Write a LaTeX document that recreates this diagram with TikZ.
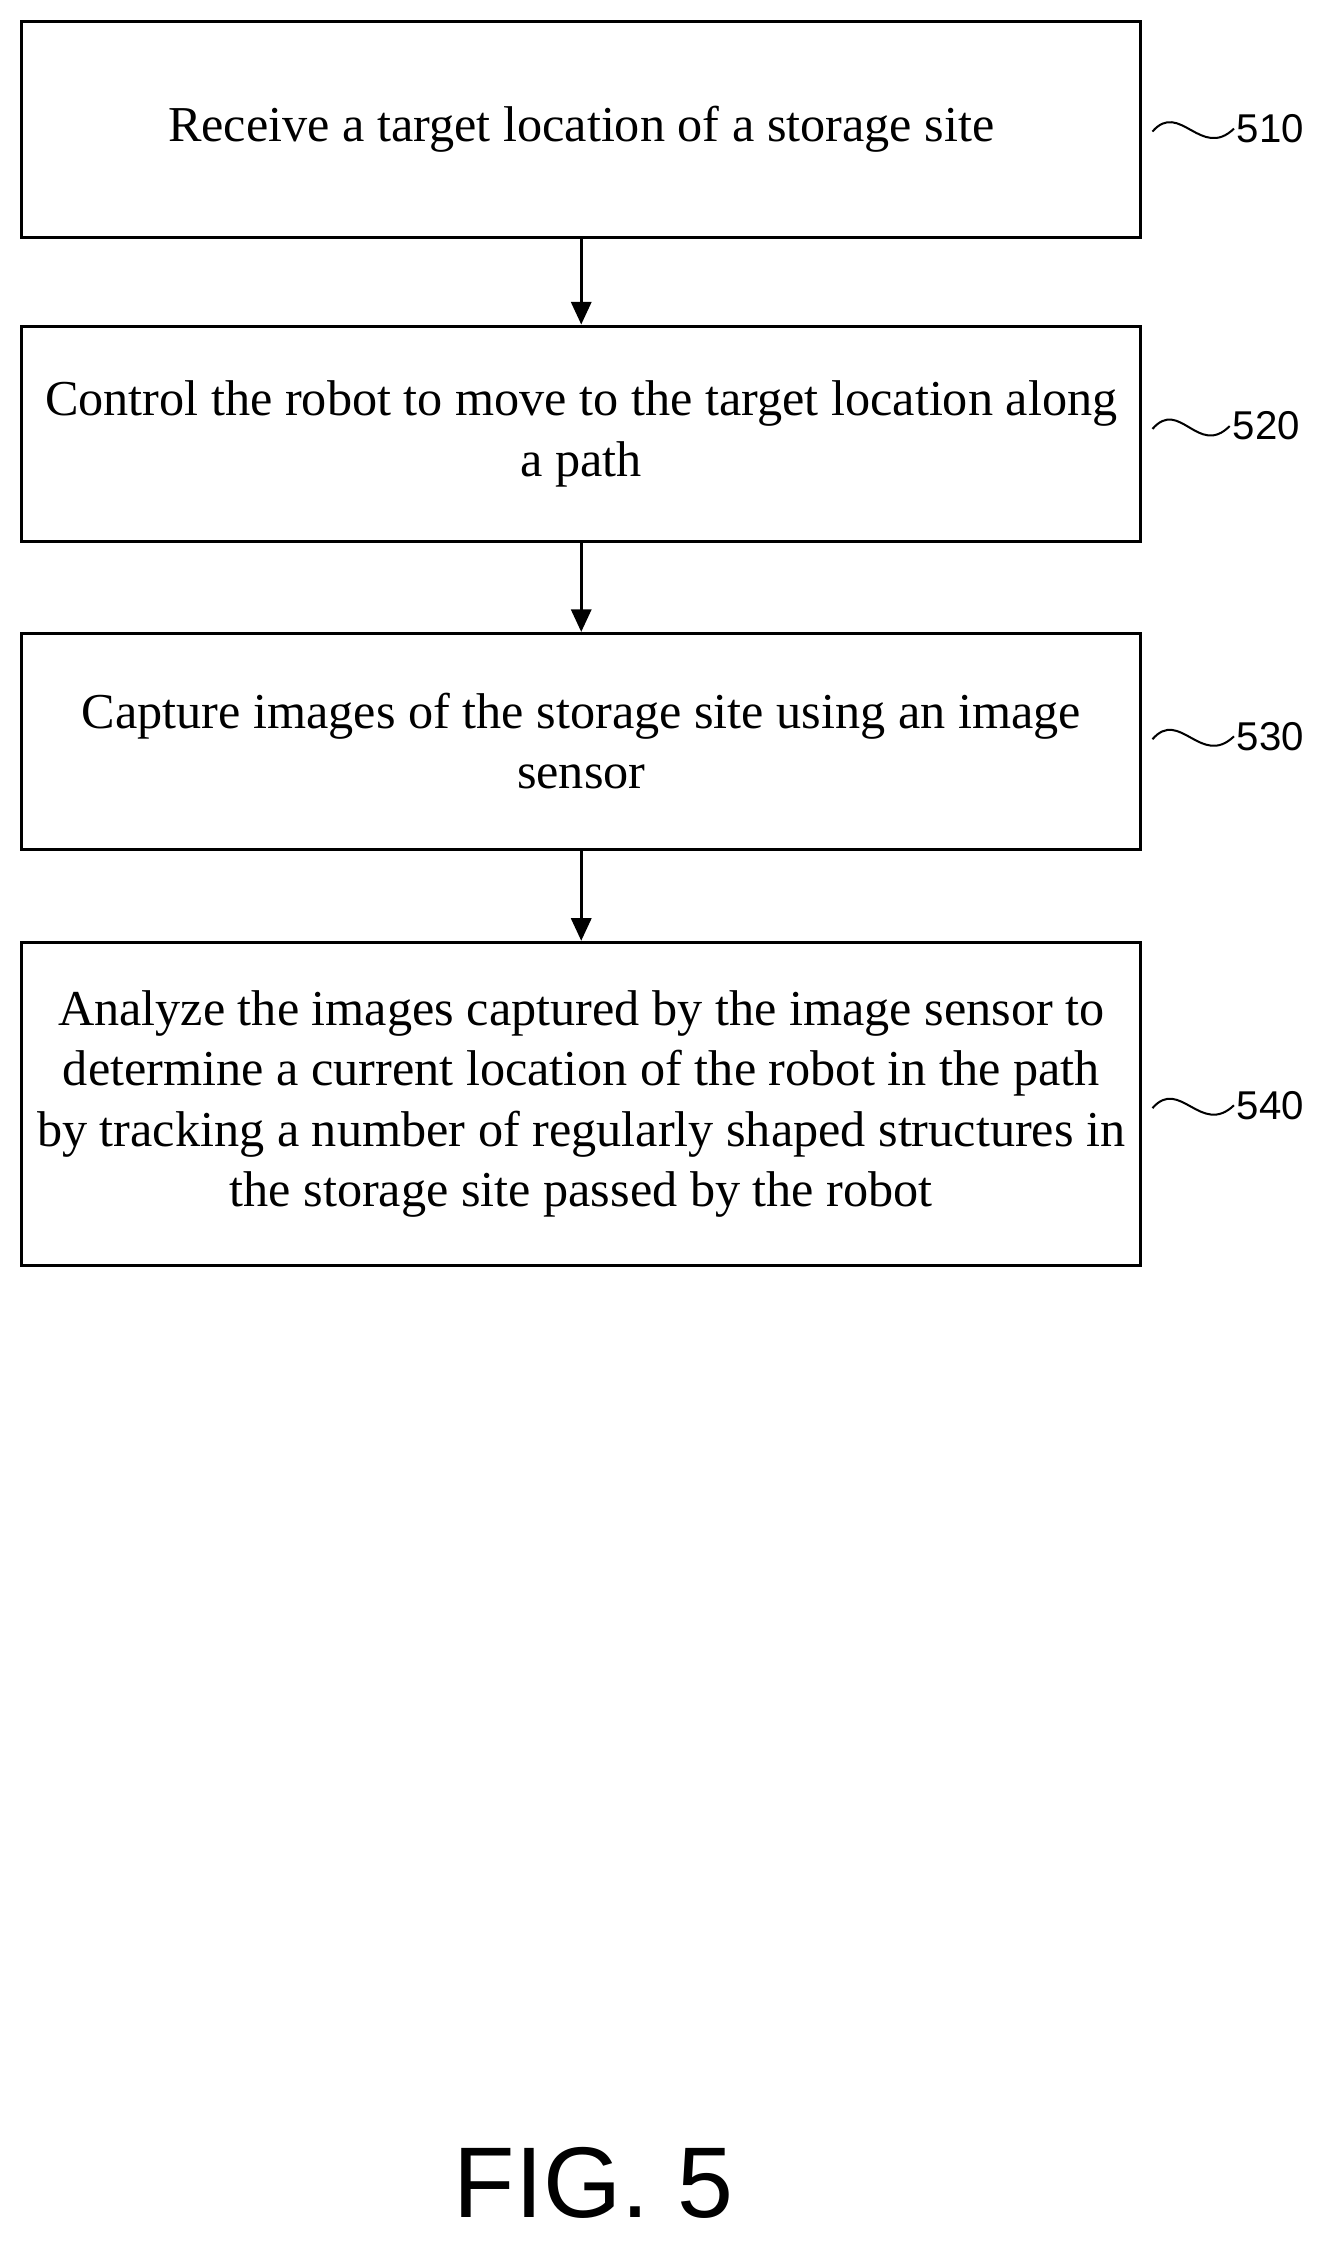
\documentclass[tikz,border=0pt]{standalone}
\usepackage{fontspec}
\setmainfont{Liberation Serif}
\newfontfamily\labelfont{Liberation Sans}
\usetikzlibrary{arrows.meta}
\tikzset{
  stepbox/.style={draw, line width=1.2pt, minimum width=15.66cm, align=center, font=\fontsize{20}{24}\selectfont, inner sep=0pt},
  reflabel/.style={font=\labelfont\fontsize{16}{18}\selectfont, anchor=west, inner sep=1pt},
  wave/.style={line width=0.8pt}
}
\begin{document}
\begin{tikzpicture}[x=0.02cm,y=-0.02cm]
        \useasboundingbox (0,0) rectangle (931,1568);
        \node[stepbox, minimum height=3.02cm] at (406.5,90.5) (A) {Receive a target location of a storage site};
        \node[stepbox, minimum height=3.02cm] at (406.5,303.5) (B) {Control the robot to move to the target location along\\a path};
        \node[stepbox, minimum height=3.02cm] at (406.5,518.5) (C) {Capture images of the storage site using an image\\sensor};
        \node[stepbox, minimum height=4.52cm] at (406.5,772) (D) {Analyze the images captured by the image sensor to\\determine a current location of the robot in the path\\by tracking a number of regularly shaped structures in\\the storage site passed by the robot};

        \draw [-{Triangle[length=9pt,width=8pt]}, line width=1.2pt] (A) -- (B);
        \draw [-{Triangle[length=9pt,width=8pt]}, line width=1.2pt] (B) -- (C);
        \draw [-{Triangle[length=9pt,width=8pt]}, line width=1.2pt] (C) -- (D);

        \node[reflabel] at (863,90) (L1) {510};
        \node[reflabel] at (860,298) (L2) {520};
        \node[reflabel] at (863,515) (L3) {530};
        \node[reflabel] at (863,773) (L4) {540};

        \coordinate (W1) at (806,92);
        \coordinate (W2) at (806,300);
        \coordinate (W3) at (806,517);
        \coordinate (W4) at (806,775);
        \draw[wave] (W1) .. controls (825,70) and (840,112) .. (L1.west);
        \draw[wave] (W2) .. controls (825,278) and (838,320) .. (L2.west);
        \draw[wave] (W3) .. controls (825,495) and (840,537) .. (L3.west);
        \draw[wave] (W4) .. controls (825,753) and (840,795) .. (L4.west);

        \node[font=\labelfont\fontsize{40}{46}\selectfont] at (415,1527) (F) {FIG. 5};
    \end{tikzpicture}
\end{document}
